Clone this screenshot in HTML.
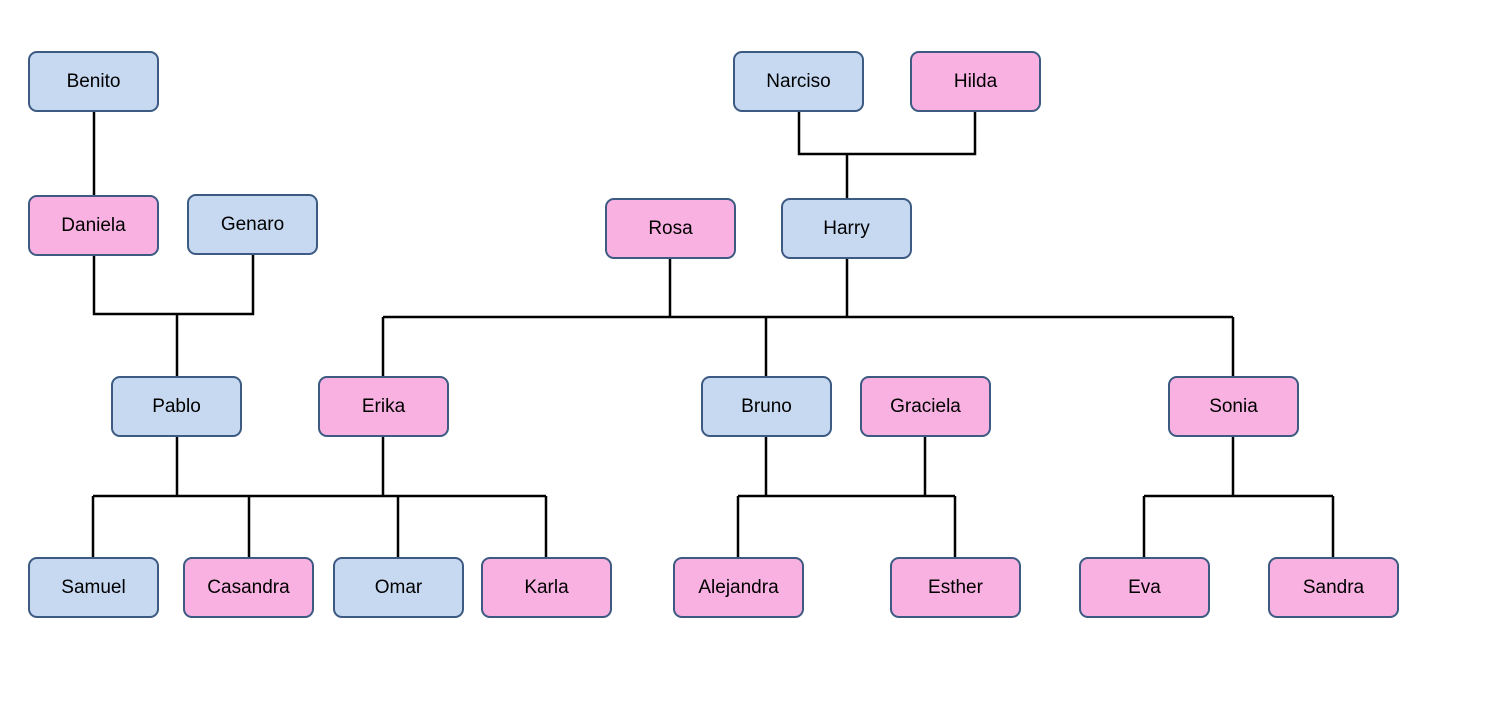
<!DOCTYPE html>
<html><head><meta charset="utf-8"><style>
body{margin:0;width:1512px;height:720px;background:#fff;position:relative;overflow:hidden;font-family:"Liberation Sans",sans-serif}
.b{position:absolute;width:127px;height:57px;border:2px solid #3c5a82;border-radius:9px;display:flex;align-items:center;justify-content:center;font-size:19px;color:#000;box-sizing:content-box}
.m{background:#c6d9f1}.f{background:#f9b1e1}
svg{position:absolute;left:0;top:0}
</style></head><body>
<svg width="1512" height="720"><g stroke="#000" stroke-width="2.5" fill="none">
<path d="M94 111V195"/>
<path d="M94 255V314H253V254M177 314V376"/>
<path d="M799 111V154H975V111M847 154V198"/>
<path d="M670 258V317M847 258V317M383 317H1233M383 317V376M766 317V376M1233 317V376"/>
<path d="M177 436V496M383 436V496M93 496H546M93 496V557M249 496V557M398 496V557M546 496V557"/>
<path d="M766 436V496M925 436V496M738 496H955M738 496V557M955 496V557"/>
<path d="M1233 436V496M1144 496H1333M1144 496V557M1333 496V557"/>
</g></svg>
<div class="b m" style="left:28px;top:51px">Benito</div>
<div class="b m" style="left:733px;top:51px">Narciso</div>
<div class="b f" style="left:910px;top:51px">Hilda</div>
<div class="b f" style="left:28px;top:195px">Daniela</div>
<div class="b m" style="left:187px;top:194px">Genaro</div>
<div class="b f" style="left:605px;top:198px">Rosa</div>
<div class="b m" style="left:781px;top:198px">Harry</div>
<div class="b m" style="left:111px;top:376px">Pablo</div>
<div class="b f" style="left:318px;top:376px">Erika</div>
<div class="b m" style="left:701px;top:376px">Bruno</div>
<div class="b f" style="left:860px;top:376px">Graciela</div>
<div class="b f" style="left:1168px;top:376px">Sonia</div>
<div class="b m" style="left:28px;top:557px">Samuel</div>
<div class="b f" style="left:183px;top:557px">Casandra</div>
<div class="b m" style="left:333px;top:557px">Omar</div>
<div class="b f" style="left:481px;top:557px">Karla</div>
<div class="b f" style="left:673px;top:557px">Alejandra</div>
<div class="b f" style="left:890px;top:557px">Esther</div>
<div class="b f" style="left:1079px;top:557px">Eva</div>
<div class="b f" style="left:1268px;top:557px">Sandra</div>
</body></html>
